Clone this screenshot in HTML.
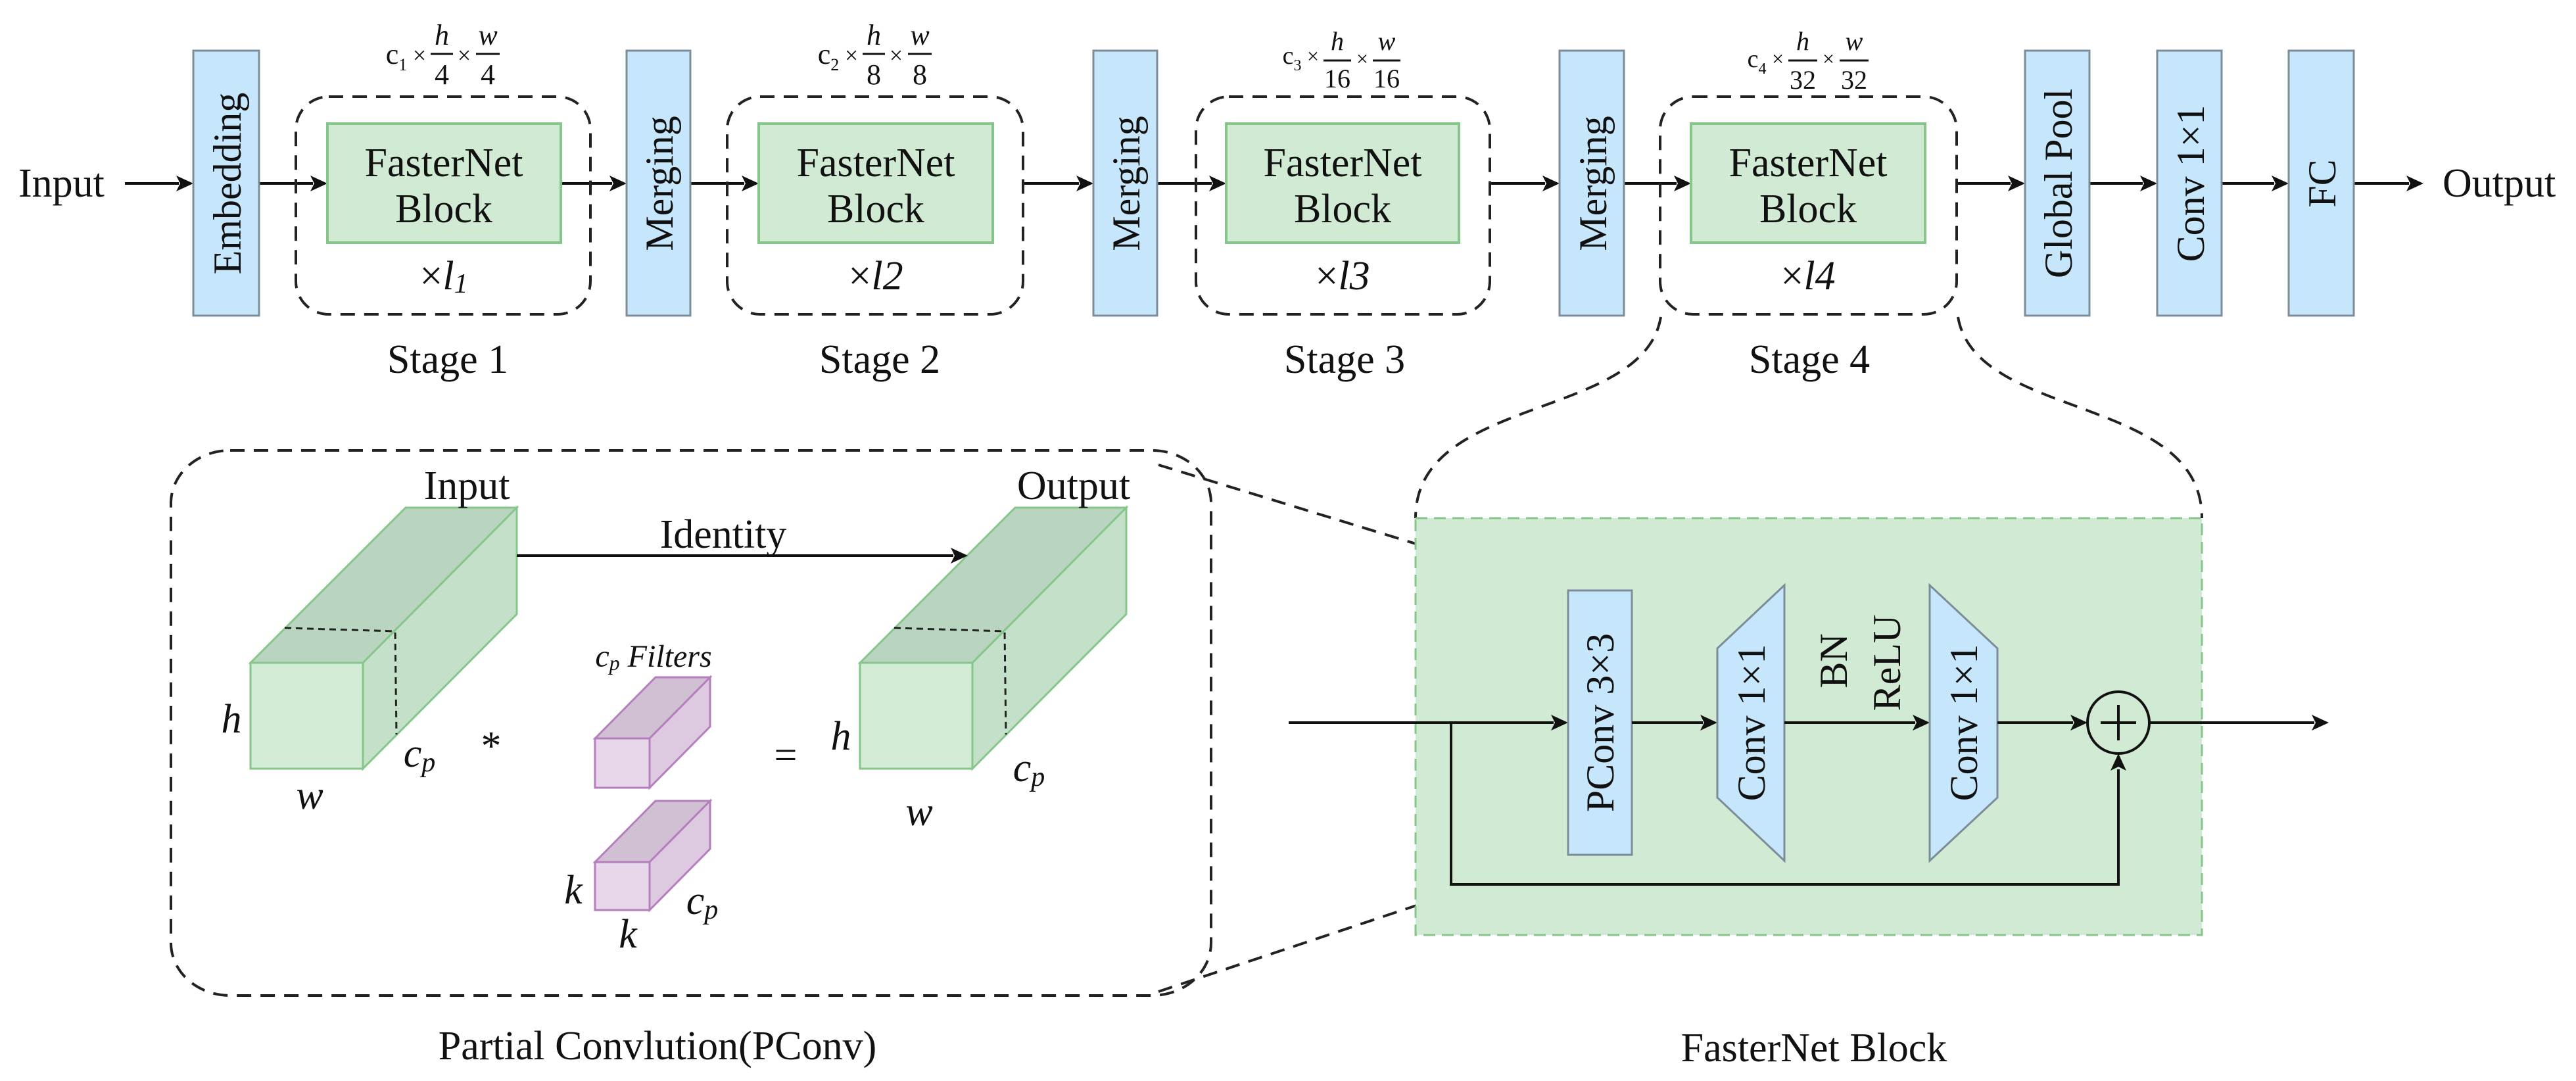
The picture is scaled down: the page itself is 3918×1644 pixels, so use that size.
<!DOCTYPE html>
<html><head><meta charset="utf-8"><style>html,body{margin:0;padding:0;background:#fff}svg{display:block}
svg text{font-family:"Liberation Serif","Times New Roman",serif}</style></head>
<body>
<svg width="3918" height="1644" viewBox="0 0 3918 1644" xmlns="http://www.w3.org/2000/svg">
<style>
.bl{fill:#c6e6fb;stroke:#7d8c99;stroke-width:3}
.gr{fill:#d0ead3;stroke:#86c68a;stroke-width:4}
.dash{fill:none;stroke:#222;stroke-width:4;stroke-dasharray:22 14}
.ln{stroke:#111;stroke-width:4;fill:none}
.t{font-size:62px;fill:#111}
.vt{font-size:60px;fill:#111}
.fr{font-size:44px;fill:#111}
</style>

<text class="t" x="28" y="279" dominant-baseline="central">Input</text>
<g class="ln">
<line x1="190" y1="279" x2="272" y2="279"/>
<line x1="394" y1="279" x2="476" y2="279"/>
<line x1="853" y1="279" x2="931" y2="279"/>
<line x1="1050" y1="279" x2="1132" y2="279"/>
<line x1="1556" y1="279" x2="1641" y2="279"/>
<line x1="1760" y1="279" x2="1843" y2="279"/>
<line x1="2266" y1="279" x2="2350" y2="279"/>
<line x1="2470" y1="279" x2="2550" y2="279"/>
<line x1="2978" y1="279" x2="3058" y2="279"/>
<line x1="3178" y1="279" x2="3259" y2="279"/>
<line x1="3379" y1="279" x2="3459" y2="279"/>
<line x1="3580" y1="279" x2="3664" y2="279"/>
</g>
<g fill="#111">
<polygon points="294,279 268,267 274,279 268,291"/>
<polygon points="498,279 472,267 478,279 472,291"/>
<polygon points="953,279 927,267 933,279 927,291"/>
<polygon points="1154,279 1128,267 1134,279 1128,291"/>
<polygon points="1663,279 1637,267 1643,279 1637,291"/>
<polygon points="1865,279 1839,267 1845,279 1839,291"/>
<polygon points="2372,279 2346,267 2352,279 2346,291"/>
<polygon points="2572,279 2546,267 2552,279 2546,291"/>
<polygon points="3080,279 3054,267 3060,279 3054,291"/>
<polygon points="3281,279 3255,267 3261,279 3255,291"/>
<polygon points="3481,279 3455,267 3461,279 3455,291"/>
<polygon points="3686,279 3660,267 3666,279 3660,291"/>
</g>
<text class="t" x="3715" y="279" dominant-baseline="central">Output</text>

<rect class="bl" x="294" y="77" width="100" height="403"/>
<text class="vt" transform="translate(346,279) rotate(-90)" text-anchor="middle" dominant-baseline="central">Embedding</text>
<rect class="bl" x="953" y="77" width="97" height="403"/>
<text class="vt" transform="translate(1003,279) rotate(-90)" text-anchor="middle" dominant-baseline="central">Merging</text>
<rect class="bl" x="1663" y="77" width="97" height="403"/>
<text class="vt" transform="translate(1713,279) rotate(-90)" text-anchor="middle" dominant-baseline="central">Merging</text>
<rect class="bl" x="2372" y="77" width="98" height="403"/>
<text class="vt" transform="translate(2423,279) rotate(-90)" text-anchor="middle" dominant-baseline="central">Merging</text>
<rect class="bl" x="3080" y="77" width="98" height="403"/>
<text class="vt" transform="translate(3131,279) rotate(-90)" text-anchor="middle" dominant-baseline="central">Global Pool</text>
<rect class="bl" x="3281" y="77" width="98" height="403"/>
<text class="vt" transform="translate(3332,279) rotate(-90)" text-anchor="middle" dominant-baseline="central">Conv 1×1</text>
<rect class="bl" x="3481" y="77" width="99" height="403"/>
<text class="vt" transform="translate(3532,279) rotate(-90)" text-anchor="middle" dominant-baseline="central">FC</text>

<rect class="dash" x="450" y="147" width="448" height="331" rx="50"/>
<rect class="gr" x="498" y="188" width="355" height="181"/>
<text class="t" x="675" y="248" text-anchor="middle" dominant-baseline="central">FasterNet</text>
<text class="t" x="675" y="318" text-anchor="middle" dominant-baseline="central">Block</text>
<text class="t" x="675" y="420" text-anchor="middle" dominant-baseline="central">×<tspan font-style="italic">l</tspan><tspan font-style="italic" font-size="42" dy="12">1</tspan></text>
<text class="t" x="681" y="547" text-anchor="middle" dominant-baseline="central">Stage 1</text>

<rect class="dash" x="1106" y="147" width="450" height="331" rx="50"/>
<rect class="gr" x="1154" y="188" width="356" height="181"/>
<text class="t" x="1332" y="248" text-anchor="middle" dominant-baseline="central">FasterNet</text>
<text class="t" x="1332" y="318" text-anchor="middle" dominant-baseline="central">Block</text>
<text class="t" x="1332" y="420" text-anchor="middle" dominant-baseline="central">×<tspan font-style="italic">l2</tspan></text>
<text class="t" x="1338" y="547" text-anchor="middle" dominant-baseline="central">Stage 2</text>

<rect class="dash" x="1819" y="147" width="447" height="331" rx="50"/>
<rect class="gr" x="1865" y="188" width="354" height="181"/>
<text class="t" x="2042" y="248" text-anchor="middle" dominant-baseline="central">FasterNet</text>
<text class="t" x="2042" y="318" text-anchor="middle" dominant-baseline="central">Block</text>
<text class="t" x="2042" y="420" text-anchor="middle" dominant-baseline="central">×<tspan font-style="italic">l3</tspan></text>
<text class="t" x="2045" y="547" text-anchor="middle" dominant-baseline="central">Stage 3</text>

<rect class="dash" x="2525" y="147" width="451" height="331" rx="50"/>
<rect class="gr" x="2572" y="188" width="356" height="181"/>
<text class="t" x="2750" y="248" text-anchor="middle" dominant-baseline="central">FasterNet</text>
<text class="t" x="2750" y="318" text-anchor="middle" dominant-baseline="central">Block</text>
<text class="t" x="2750" y="420" text-anchor="middle" dominant-baseline="central">×<tspan font-style="italic">l4</tspan></text>
<text class="t" x="2752" y="547" text-anchor="middle" dominant-baseline="central">Stage 4</text>

<g class="fr" text-anchor="middle">
<text x="603" y="97">c<tspan font-size="26" dy="10">1</tspan></text>
<text x="638" y="96" font-size="36">×</text>
<line x1="655" y1="82" x2="689" y2="82" stroke="#111" stroke-width="3"/>
<text x="672" y="68" font-style="italic">h</text><text x="672" y="128">4</text>
<text x="706" y="96" font-size="36">×</text>
<line x1="724" y1="82" x2="760" y2="82" stroke="#111" stroke-width="3"/>
<text x="742" y="68" font-style="italic">w</text><text x="742" y="128">4</text>
<text x="1260" y="97">c<tspan font-size="26" dy="10">2</tspan></text>
<text x="1295" y="96" font-size="36">×</text>
<line x1="1312" y1="82" x2="1346" y2="82" stroke="#111" stroke-width="3"/>
<text x="1329" y="68" font-style="italic">h</text><text x="1329" y="128">8</text>
<text x="1363" y="96" font-size="36">×</text>
<line x1="1381" y1="82" x2="1417" y2="82" stroke="#111" stroke-width="3"/>
<text x="1399" y="68" font-style="italic">w</text><text x="1399" y="128">8</text>
<text x="1965" y="97" font-size="38">c<tspan font-size="24" dy="10">3</tspan></text>
<text x="1997" y="96" font-size="32">×</text>
<line x1="2013" y1="92" x2="2055" y2="92" stroke="#111" stroke-width="3"/>
<text x="2034" y="76" font-style="italic" font-size="40">h</text><text x="2034" y="133" font-size="40">16</text>
<text x="2072" y="100" font-size="32">×</text>
<line x1="2088" y1="92" x2="2130" y2="92" stroke="#111" stroke-width="3"/>
<text x="2109" y="76" font-style="italic" font-size="40">w</text><text x="2109" y="133" font-size="40">16</text>
<text x="2672" y="102" font-size="38">c<tspan font-size="24" dy="10">4</tspan></text>
<text x="2704" y="100" font-size="32">×</text>
<line x1="2720" y1="92" x2="2764" y2="92" stroke="#111" stroke-width="3"/>
<text x="2742" y="76" font-style="italic" font-size="40">h</text><text x="2742" y="135" font-size="40">32</text>
<text x="2781" y="100" font-size="32">×</text>
<line x1="2798" y1="92" x2="2842" y2="92" stroke="#111" stroke-width="3"/>
<text x="2820" y="76" font-style="italic" font-size="40">w</text><text x="2820" y="135" font-size="40">32</text>
</g>

<path class="dash" d="M2526,482 C2500,640 2153,600 2153,788"/>
<path class="dash" d="M2978,482 C3005,640 3349,600 3349,788"/>

<rect class="dash" x="260" y="685" width="1582" height="829" rx="90" ry="80"/>
<line class="dash" x1="1762" y1="707" x2="2385" y2="898"/>
<line class="dash" x1="1762" y1="1508" x2="2385" y2="1300"/>

<g stroke="#86c68a" stroke-width="3">
<polygon points="381,1008 617,772 786,772 552,1008" fill="#b9d5bf"/>
<polygon points="552,1008 786,772 786,934 552,1169" fill="#c4e0c9"/>
<rect x="381" y="1008" width="171" height="161" fill="#d2ecd5"/>
<polygon points="1308,1008 1544,772 1713,772 1479,1008" fill="#b9d5bf"/>
<polygon points="1479,1008 1713,772 1713,934 1479,1169" fill="#c4e0c9"/>
<rect x="1308" y="1008" width="171" height="161" fill="#d2ecd5"/>
</g>
<g stroke="#222" stroke-width="3" stroke-dasharray="10 7" fill="none">
<polyline points="433,955 601,960 603,1117"/>
<polyline points="1360,955 1528,960 1530,1117"/>
</g>
<text class="t" x="710" y="739" text-anchor="middle" dominant-baseline="central">Input</text>
<text class="t" x="1633" y="739" text-anchor="middle" dominant-baseline="central">Output</text>
<line class="ln" x1="786" y1="845" x2="1450" y2="845"/>
<polygon points="1472,845 1446,833 1452,845 1446,857" fill="#111"/>
<text class="t" x="1100" y="813" text-anchor="middle" dominant-baseline="central">Identity</text>

<g class="t" font-style="italic" text-anchor="middle" dominant-baseline="central">
<text x="352" y="1094">h</text>
<text x="638" y="1146">c<tspan font-size="42" dy="14">p</tspan></text>
<text x="471" y="1210">w</text>
<text x="1279" y="1120">h</text>
<text x="1565" y="1168">c<tspan font-size="42" dy="14">p</tspan></text>
<text x="1398" y="1235">w</text>
<text x="872" y="1354">k</text>
<text x="955" y="1421">k</text>
<text x="1068" y="1370">c<tspan font-size="42" dy="14">p</tspan></text>
</g>
<text class="t" x="747" y="1135" text-anchor="middle" dominant-baseline="central" font-size="70">*</text>
<text class="t" x="1195" y="1149" text-anchor="middle" dominant-baseline="central" font-size="70">=</text>
<text x="994" y="998" text-anchor="middle" dominant-baseline="central" font-style="italic" font-size="48" fill="#111">c<tspan font-size="32" dy="10">p</tspan><tspan dy="-10"> Filters</tspan></text>

<g stroke="#b57fbd" stroke-width="3">
<polygon points="905,1123 997,1030 1080,1030 988,1123" fill="#d1bfd4"/>
<polygon points="988,1123 1080,1030 1080,1105 988,1198" fill="#ddcae0"/>
<rect x="905" y="1123" width="83" height="75" fill="#e8d7ea"/>
<polygon points="905,1311 997,1218 1080,1218 988,1311" fill="#d1bfd4"/>
<polygon points="988,1311 1080,1218 1080,1291 988,1384" fill="#ddcae0"/>
<rect x="905" y="1311" width="83" height="73" fill="#e8d7ea"/>
</g>
<text class="t" x="1000" y="1591" text-anchor="middle" dominant-baseline="central">Partial Convlution(PConv)</text>

<rect x="2153" y="788" width="1196" height="634" fill="#d0ead3" stroke="#86c68a" stroke-width="3" stroke-dasharray="18 10"/>
<line class="ln" x1="1960" y1="1099" x2="2363" y2="1099"/>
<polygon points="2385,1099 2359,1087 2365,1099 2359,1111" fill="#111"/>
<rect class="bl" x="2385" y="898" width="97" height="402"/>
<text class="vt" transform="translate(2434,1099) rotate(-90)" text-anchor="middle" dominant-baseline="central">PConv 3×3</text>
<line class="ln" x1="2482" y1="1099" x2="2590" y2="1099"/>
<polygon points="2612,1099 2586,1087 2592,1099 2586,1111" fill="#111"/>
<polygon class="bl" points="2714,890 2714,1309 2612,1213 2612,986"/>
<text class="vt" transform="translate(2664,1099) rotate(-90)" text-anchor="middle" dominant-baseline="central">Conv 1×1</text>
<line class="ln" x1="2714" y1="1099" x2="2913" y2="1099"/>
<polygon points="2935,1099 2909,1087 2915,1099 2909,1111" fill="#111"/>
<text class="vt" transform="translate(2789,1005) rotate(-90)" text-anchor="middle" dominant-baseline="central">BN</text>
<text class="vt" transform="translate(2870,1008) rotate(-90)" text-anchor="middle" dominant-baseline="central">ReLU</text>
<polygon class="bl" points="2935,890 2935,1309 3038,1213 3038,986"/>
<text class="vt" transform="translate(2987,1099) rotate(-90)" text-anchor="middle" dominant-baseline="central">Conv 1×1</text>
<line class="ln" x1="3038" y1="1099" x2="3153" y2="1099"/>
<polygon points="3175,1099 3149,1087 3155,1099 3149,1111" fill="#111"/>
<circle cx="3222" cy="1099" r="47" fill="none" stroke="#111" stroke-width="4"/>
<line class="ln" x1="3222" y1="1072" x2="3222" y2="1126"/>
<line class="ln" x1="3195" y1="1099" x2="3249" y2="1099"/>
<line class="ln" x1="3269" y1="1099" x2="3520" y2="1099"/>
<polygon points="3542,1099 3516,1087 3522,1099 3516,1111" fill="#111"/>
<polyline class="ln" points="2207,1099 2207,1345 3222,1345 3222,1170"/>
<polygon points="3222,1146 3210,1172 3222,1166 3234,1172" fill="#111"/>
<text class="t" x="2759" y="1594" text-anchor="middle" dominant-baseline="central">FasterNet Block</text>
</svg>
</body></html>
